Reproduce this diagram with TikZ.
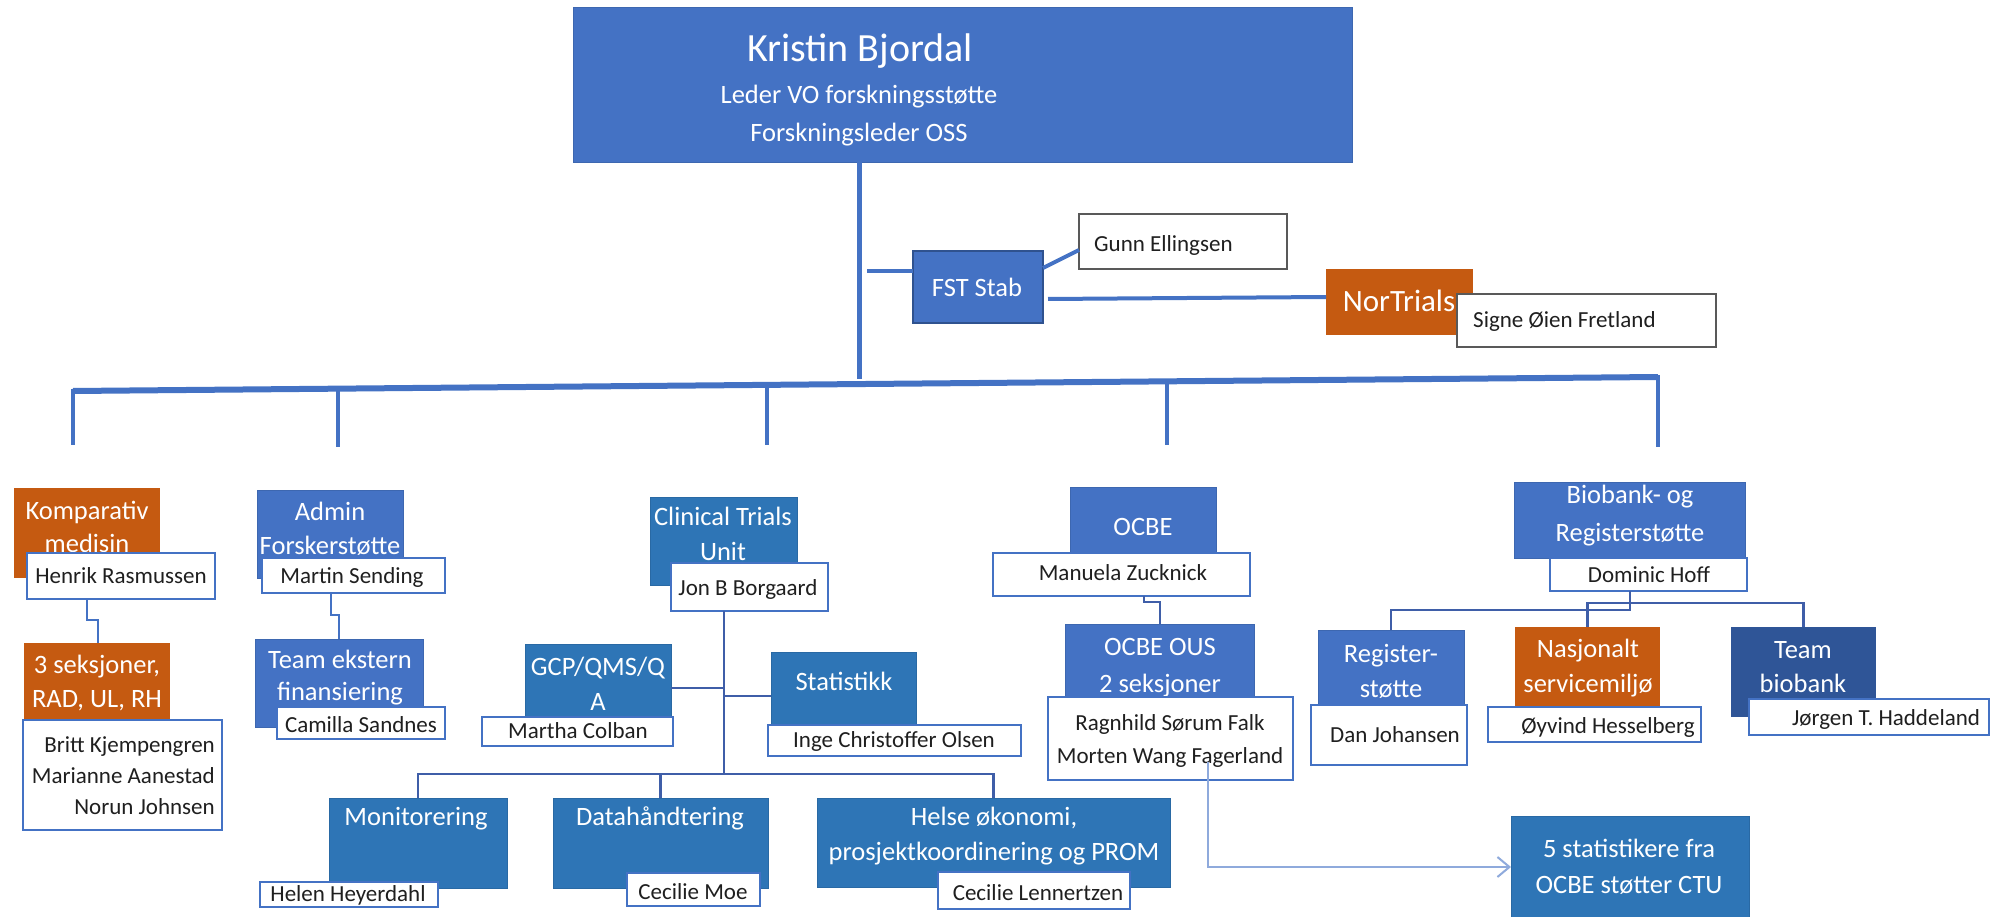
\documentclass[tikz,border=0pt]{standalone}
\usepackage{fontspec}
\setmainfont{Carlito}
\usetikzlibrary{calc,arrows.meta}
\definecolor{cblue}{HTML}{4472C4}
\definecolor{cctu}{HTML}{2E75B6}
\definecolor{corange}{HTML}{C55A11}
\definecolor{cdark}{HTML}{2F5597}
\definecolor{cthin}{HTML}{3F5EA8}
\definecolor{carrow}{HTML}{8FAADC}
\definecolor{cborder}{HTML}{2F528F}
\newcommand\Bx[6]{\node[#2, minimum width={#5-#3}, minimum height={#6-#4}] (#1) at (#3,#4) {};}
\begin{document}
\begin{tikzpicture}[x=1pt,y=-1pt,
  bx/.style={inner sep=0pt,outer sep=0pt,anchor=north west},
  bluebox/.style={bx,fill=cblue,draw=cblue!90!black,line width=0.8pt},
  fstbox/.style={bx,fill=cblue,draw=cborder,line width=1.6pt},
  ctubox/.style={bx,fill=cctu,draw=cctu!90!black,line width=0.8pt},
  orabox/.style={bx,fill=corange},
  darkbox/.style={bx,fill=cdark},
  namebox/.style={bx,fill=white,draw=cblue,line width=2pt},
  graybox/.style={bx,fill=white,draw=black!65,line width=1.2pt},
  headtxt/.style={text=white,align=center,anchor=base,inner sep=0pt,font=\fontsize{26.5}{33}\selectfont},
  nametxt/.style={text=black!88,align=center,anchor=base,inner sep=0pt,font=\fontsize{23}{31}\selectfont},
  busline/.style={draw=cblue,line width=6pt},
  trunkline/.style={draw=cblue,line width=5pt},
  dropline/.style={draw=cblue,line width=4pt},
  elbow/.style={draw=cblue,line width=2.5pt},
  thinline/.style={draw=cthin,line width=2.5pt},
  arrowline/.style={draw=carrow,line width=2pt,-{Straight Barb[length=12pt,width=20pt,line width=2pt]}}
]
\useasboundingbox (0,0) rectangle (1995,917);
\fill[white] (0,0) rectangle (1995,917);

% ---- top
\Bx{kb}{bluebox}{573}{7}{1352}{162}
\node[headtxt,font=\fontsize{40}{40}\selectfont] (kbt1) at (860,62) {Kristin Bjordal};
\node[headtxt,font=\fontsize{26.5}{38}\selectfont] (kbt2) at (859,142) {Leder VO forskningsstøtte\\Forskningsleder OSS};

% ---- staff
\Bx{fst}{fstbox}{913}{251}{1043}{323}
\node[headtxt] (fstt) at (977,297) {FST Stab};
\Bx{gunn}{graybox}{1079}{214}{1287}{269}
\node[nametxt,anchor=base west] (gunnt) at (1094,252) {Gunn Ellingsen};
\Bx{nor}{orabox}{1326}{269}{1473}{335}
\node[headtxt,font=\fontsize{31}{31}\selectfont] (nort) at (1399,312) {NorTrials};
\Bx{signe}{graybox}{1457}{294}{1716}{347}
\node[nametxt,anchor=base west] (signet) at (1473,328) {Signe Øien Fretland};

% ---- Komparativ
\Bx{komp}{orabox}{14}{488}{160}{578}
\node[headtxt] (kompt) at (87,552) {Komparativ\\medisin};
\Bx{hen}{namebox}{27}{553}{215}{599}
\node[nametxt] (hent) at (121,583) {Henrik Rasmussen};
\Bx{seks}{orabox}{24}{643}{170}{727}
\node[headtxt,font=\fontsize{26.5}{34}\selectfont] (sekst) at (97,707) {3 seksjoner,\\RAD, UL, RH};
\Bx{britt}{namebox}{23}{720}{222}{830}
\node[nametxt,align=right,anchor=base east] (brittt) at (215,814) {Britt Kjempengren\\Marianne Aanestad\\Norun Johnsen};

% ---- Admin
\Bx{adm}{bluebox}{257}{490}{403}{578}
\node[headtxt,font=\fontsize{26.5}{34}\selectfont] (admt) at (330,554) {Admin\\Forskerstøtte};
\Bx{mart}{namebox}{262}{558}{445}{593}
\node[nametxt] (martt) at (352,583) {Martin Sending};
\Bx{ext}{bluebox}{255}{639}{423}{727}
\node[headtxt,font=\fontsize{26.5}{32}\selectfont] (extt) at (340,700) {Team ekstern\\finansiering};
\Bx{cam}{namebox}{277}{707}{445}{739}
\node[nametxt] (camt) at (361,732) {Camilla Sandnes};

% ---- CTU
\Bx{ctu}{ctubox}{650}{497}{797}{585}
\node[headtxt,font=\fontsize{26.5}{35}\selectfont] (ctut) at (723,560) {Clinical Trials\\Unit};
\Bx{jon}{namebox}{671}{563}{828}{611}
\node[nametxt] (jont) at (748,595) {Jon B Borgaard};
\Bx{gcp}{ctubox}{525}{644}{671}{717}
\node[headtxt,font=\fontsize{26.5}{35}\selectfont] (gcpt) at (598,710) {GCP/QMS/Q\\A};
\Bx{mcol}{namebox}{482}{717}{673}{746}
\node[nametxt] (mcolt) at (578,738) {Martha Colban};
\Bx{stat}{ctubox}{771}{652}{916}{727}
\node[headtxt] (statt) at (844,690) {Statistikk};
\Bx{inge}{namebox}{768}{725}{1021}{756}
\node[nametxt] (inget) at (894,747) {Inge Christoffer Olsen};
\Bx{mon}{ctubox}{329}{798}{507}{888}
\node[headtxt] (mont) at (416,825) {Monitorering};
\Bx{hel}{namebox}{260}{882}{438}{907}
\node[nametxt] (helt) at (348,901) {Helen Heyerdahl};
\Bx{dat}{ctubox}{553}{798}{768}{888}
\node[headtxt] (datt) at (660,825) {Datahåndtering};
\Bx{cmoe}{namebox}{627}{873}{760}{906}
\node[nametxt] (cmoet) at (693,899) {Cecilie Moe};
\Bx{hok}{ctubox}{817}{798}{1170}{887}
\node[headtxt,font=\fontsize{26.5}{35}\selectfont] (hokt) at (994,860) {Helse økonomi,\\prosjektkoordinering og PROM};
\Bx{clen}{namebox}{938}{872}{1130}{909}
\node[nametxt] (clent) at (1038,900) {Cecilie Lennertzen};

% ---- OCBE
\Bx{ocbe}{bluebox}{1070}{487}{1216}{553}
\node[headtxt] (ocbet) at (1143,535) {OCBE};
\Bx{man}{namebox}{993}{553}{1250}{596}
\node[nametxt] (mant) at (1123,580) {Manuela Zucknick};
\Bx{ous}{bluebox}{1065}{624}{1254}{705}
\node[headtxt,font=\fontsize{26.5}{37}\selectfont] (oust) at (1160,692) {OCBE OUS\\2 seksjoner};
\Bx{rag}{namebox}{1048}{697}{1293}{780}
\node[nametxt,font=\fontsize{23}{33}\selectfont] (ragt) at (1170,763) {Ragnhild Sørum Falk\\Morten Wang Fagerland};

% ---- Biobank
\Bx{bio}{bluebox}{1514}{482}{1745}{558}
\node[headtxt,font=\fontsize{26.5}{38}\selectfont] (biot) at (1630,541) {Biobank- og\\Registerstøtte};
\Bx{dom}{namebox}{1550}{558}{1747}{591}
\node[nametxt] (domt) at (1649,582) {Dominic Hoff};
\Bx{reg}{bluebox}{1318}{630}{1464}{705}
\node[headtxt,font=\fontsize{26.5}{35}\selectfont] (regt) at (1391,697) {Register-\\støtte};
\Bx{dan}{namebox}{1311}{705}{1467}{765}
\node[nametxt] (dant) at (1395,742) {Dan Johansen};
\Bx{nas}{orabox}{1515}{627}{1660}{707}
\node[headtxt,font=\fontsize{26.5}{35}\selectfont] (nast) at (1588,692) {Nasjonalt\\servicemiljø};
\Bx{oyv}{namebox}{1488}{707}{1701}{742}
\node[nametxt] (oyvt) at (1608,733) {Øyvind Hesselberg};
\Bx{tbio}{darkbox}{1731}{627}{1876}{717}
\node[headtxt,font=\fontsize{26.5}{34}\selectfont] (tbiot) at (1803,692) {Team\\biobank};
\Bx{jor}{namebox}{1749}{699}{1989}{735}
\node[nametxt] (jort) at (1886,725) {Jørgen T. Haddeland};

% ---- 5 statistikere
\Bx{five}{ctubox}{1511}{816}{1749}{918}
\node[headtxt,font=\fontsize{26.5}{36}\selectfont] (fivet) at (1629,893) {5 statistikere fra\\OCBE støtter CTU};

% ---- main connectors
\coordinate (trunkend) at (859,379);
\draw[trunkline] (kb.south -| trunkend) -- (trunkend);
\coordinate (busL) at (73,391);
\coordinate (busR) at (1658,377);
\draw[busline,line join=round] (busL) -- (busR);
\coordinate (d1t) at (73,389);   \coordinate (d1b) at (73,445);
\coordinate (d2t) at (338,389);  \coordinate (d2b) at (338,447);
\coordinate (d3t) at (767,386);  \coordinate (d3b) at (767,445);
\coordinate (d4t) at (1167,382); \coordinate (d4b) at (1167,445);
\coordinate (d5t) at (1658,375); \coordinate (d5b) at (1658,447);
\foreach \d in {1,...,5} {\draw[dropline] (d\d t) -- (d\d b);}

% staff connectors
\coordinate (fstl) at (867,271);
\draw[dropline] (fstl) -- (fstl -| fst.west);
\draw[dropline] ($(fst.north east)+(0,17)$) -- ($(gunn.south west)+(0,-19)$);
\draw[dropline] ($(fst.south east)+(5,-24)$) -- ($(nor.west)+(0,-5)$);

% sub connectors
\draw[elbow] ($(hen.south west)+(60,0)$) -- ++(0,21) -- ++(11,0) -- ($(seks.north west)+(74,0)$);
\draw[elbow] ($(mart.south west)+(69,0)$) -- ++(0,22) -- ++(8,0) -- ($(ext.north west)+(84,0)$);
\draw[thinline] ($(man.south west)+(151,0)$) -- ++(0,6) -- ++(16,0) -- ($(ous.north west)+(95,0)$);

% CTU tree
\coordinate (cb) at (724,774);
\coordinate (cg) at (724,688);
\coordinate (cs) at (724,696);
\draw[thinline] (jon.south -| cb) -- (cb);
\draw[thinline] (cg -| gcp.east) -- (cg);
\draw[thinline] (cs) -- (cs -| stat.west);
\draw[thinline] (mon.north) |- (cb) -| (hok.north);
\draw[thinline] (dat.north) -- (dat.north |- cb);

% Biobank tree
\coordinate (bb1) at (1630,610);
\coordinate (bb2) at (1588,603);
\draw[thinline] (dom.south -| bb1) -- (bb1) -- (bb1 -| reg.north) -- (reg.north);
\draw[thinline] (nas.north) -- (nas.north |- bb2) -- (bb2 -| tbio.north) -- (tbio.north);

% arrow to 5 statistikere
\coordinate (arst) at ($(rag.south west)+(160,-18)$);
\draw[arrowline] (arst) |- (five.west);
\end{tikzpicture}
\end{document}
